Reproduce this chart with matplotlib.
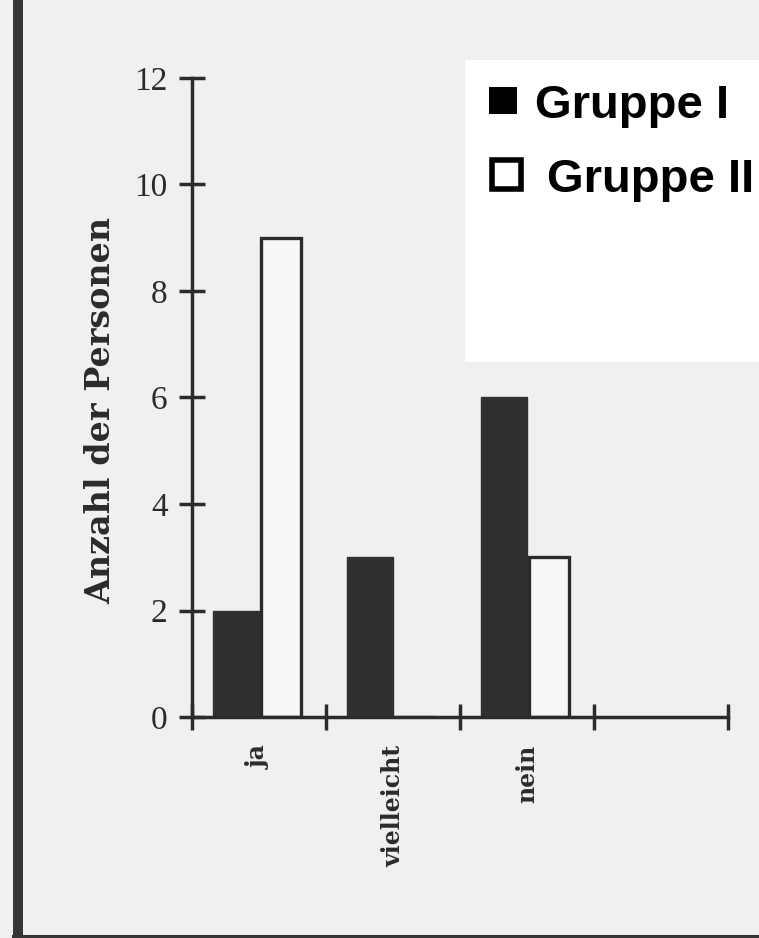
import numpy as np
import matplotlib
matplotlib.use("Agg")
import matplotlib.pyplot as plt
from matplotlib.patches import Rectangle
from matplotlib.lines import Line2D

# answers and counts per group
categories = ["ja", "vielleicht", "nein"]
gruppe_1 = [2, 3, 6]
gruppe_2 = [9, 0, 3]
legend_labels = ["Gruppe I", "Gruppe II"]
y_ticks = [0, 2, 4, 6, 8, 10, 12]

ink = "#2b2b2b"
paper = "#f0f0f0"

fig = plt.figure(figsize=(7.59, 9.38), dpi=100, facecolor=paper)
W, H = 759.0, 938.0

#  white area behind the legend
fig.patches.append(Rectangle((465 / W, 1 - 362 / H), (W - 465) / W, (362 - 60) / H,
                             transform=fig.transFigure, facecolor="white",
                             edgecolor="none", zorder=-1))

#  dark frame on the left and at the bottom
fig.patches.append(Rectangle((13 / W, 0), 10 / W, 1, transform=fig.transFigure,
                             facecolor="#353535", edgecolor="none"))
fig.add_artist(Line2D([13 / W, 1], [1 - 936 / H, 1 - 936 / H], transform=fig.transFigure,
                      color="#353535", lw=2.2))

ax = fig.add_axes([192 / W, 1 - 717 / H, (728 - 192) / W, (717 - 78) / H])
ax.set_facecolor("none")

x = np.arange(len(categories))
ax.bar(x + 0.16, gruppe_1, width=0.34, align="edge", color="#303030",
       edgecolor="#303030", linewidth=1, zorder=2)
ax.bar(x + 0.515, gruppe_2, width=0.30, align="edge", color="#f7f7f7",
       edgecolor=ink, linewidth=2.4, zorder=2)

ax.set_xlim(0, 4)
ax.set_ylim(0, 12)
for side in ["top", "right"]:
    ax.spines[side].set_visible(False)
for side in ["left", "bottom"]:
    ax.spines[side].set_color(ink)
    ax.spines[side].set_linewidth(2.5)

ax.set_yticks(y_ticks)
ax.set_yticklabels([str(v) for v in y_ticks], fontfamily="Liberation Serif",
                   fontsize=24, color=ink)
ax.tick_params(axis="y", direction="inout", length=19, width=2.5, color=ink, pad=8)

ax.set_xticks(np.arange(5))
ax.set_xticklabels([])
ax.tick_params(axis="x", which="major", direction="inout", length=19, width=2.5, color=ink)
ax.set_xticks(x + 0.5, minor=True)
ax.set_xticklabels(categories, minor=True, rotation=90, fontfamily="DejaVu Serif",
                   fontweight="bold", fontsize=17, color=ink, va="top")
ax.tick_params(axis="x", which="minor", length=0, pad=20)

ax.set_ylabel("Anzahl der Personen", fontfamily="DejaVu Serif", fontweight="bold",
              fontsize=24, color=ink)
ax.yaxis.set_label_coords((117 - 192) / (728 - 192), 0.48)

#  legend: filled and hollow squares with bold labels
fig.patches.append(Rectangle((489 / W, 1 - 114 / H), 28 / W, 27 / H,
                             transform=fig.transFigure, facecolor="black",
                             edgecolor="none"))
fig.patches.append(Rectangle((492 / W, 1 - 189 / H), 29 / W, 29 / H,
                             transform=fig.transFigure, facecolor="white",
                             edgecolor="black", linewidth=4))
fig.text(535 / W, 1 - 118 / H, legend_labels[0], fontfamily="Liberation Sans",
         fontweight="bold", fontsize=34, va="baseline", ha="left", color="black")
fig.text(547 / W, 1 - 192 / H, legend_labels[1], fontfamily="Liberation Sans",
         fontweight="bold", fontsize=34, va="baseline", ha="left", color="black")

fig.savefig("out.png", dpi=100, facecolor=paper)
